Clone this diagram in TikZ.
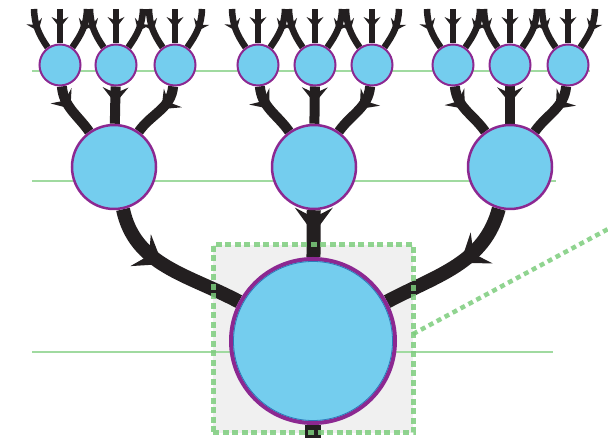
\documentclass[tikz,border=0pt]{standalone}
\usetikzlibrary{arrows.meta,decorations.markings,positioning,calc}

\definecolor{cellblue}{RGB}{116,205,238}
\definecolor{cellrim}{RGB}{140,40,145}
\definecolor{cellline}{RGB}{46,120,185}
\definecolor{edgeblack}{RGB}{35,31,32}
\definecolor{guide}{RGB}{160,218,160}
\definecolor{dotgreen}{RGB}{125,205,125}
\definecolor{boxgray}{RGB}{240,240,240}

\pgfdeclarelayer{back}
\pgfdeclarelayer{edges}
\pgfsetlayers{back,edges,main}

\begin{document}
\begin{tikzpicture}[x=1pt,y=1pt,
	cell/.style={circle,fill=cellblue,draw=cellrim,inner sep=0pt},
	bud/.style={cell,minimum size=41pt,line width=2pt},
	knot/.style={cell,minimum size=84pt,line width=2.5pt},
	hub/.style={cell,minimum size=164pt,line width=4pt},
	limb/.style={color=edgeblack,line cap=butt},
	leaf/.style={limb,line width=6.5pt,postaction={decorate},
		decoration={markings,mark=at position #1 with {\arrow{Stealth[length=11pt,width=17pt,inset=4pt,line width=0pt]}}}},
	leaf/.default=0.55,
	twig/.style={limb,line width=10pt,postaction={decorate},
		decoration={markings,mark=at position #1 with {\arrow{Stealth[length=16pt,width=26pt,inset=6pt,line width=0pt]}}}},
	twig/.default=0.45,
	branch/.style={limb,line width=14pt,postaction={decorate},
		decoration={markings,mark=at position #1 with {\arrow{Stealth[length=26pt,width=38pt,inset=10pt,line width=0pt]}}}},
	branch/.default=0.5,
	trunk/.style={limb,line width=16pt},
	zoombox/.style={draw=dotgreen,draw opacity=0.85,line width=5pt,dash pattern=on 6pt off 3.5pt,
		inner sep=0pt,outer sep=0pt,minimum width=200pt,minimum height=188pt},
	zoomlink/.style={draw=dotgreen,draw opacity=0.85,line width=4.5pt,dash pattern=on 5pt off 4pt},
	level/.style={draw=guide,line width=2pt}]
\useasboundingbox (0,0) rectangle (608,438);

% cells, root first
\node[hub] (root) at (313,97) {};
\draw[cellline,line width=0.8pt] (root.center) circle[radius=79.5];
\foreach \i/\x in {1/114,2/314,3/510}
	\node[knot] (m\i) at (\x,271) {};
\foreach \i/\x in {1/60,2/116,3/175,4/258,5/315,6/372,7/453,8/510,9/568}
	\node[bud] (s\i) at (\x,373) {};

% loose ends
\foreach \i in {1,...,9} {
	\coordinate (s\i-l) at ($(s\i)+(-26,56)$);
	\coordinate (s\i-c) at ($(s\i)+(0,56)$);
	\coordinate (s\i-r) at ($(s\i)+(27,56)$);
}
\coordinate (base) at (313,0);

% zoom frame around the root
\node[zoombox] (lens) at (313,99) {};
\coordinate (far) at (610,210);
\draw[zoomlink] ($(lens.east)+(0,5)$) -- (far);

\begin{pgfonlayer}{back}
	\fill[boxgray] (lens.south west) rectangle (lens.north east);
	\draw[level] (32,367) -- (590,367);
	\draw[level] (32,257) -- (556,257);
	\draw[level] (32,86) -- (553,86);
\end{pgfonlayer}

\begin{pgfonlayer}{edges}
	\foreach \i in {1,...,9} {
		\draw[leaf] (s\i-l) to[out=-88,in=125] (s\i);
		\draw[leaf] (s\i-c) -- (s\i);
		\draw[leaf] (s\i-r) to[out=-92,in=55] (s\i);
	}
	\foreach \g/\a/\b/\c in {1/1/2/3,2/4/5/6,3/7/8/9} {
		\draw[twig] (s\a) to[out=-85,in=125] (m\g);
		\draw[twig] (s\b) -- (m\g);
		\draw[twig] (s\c) to[out=-95,in=55] (m\g);
	}
	\draw[branch=0.45] (m1) to[out=-78,in=152] (root);
	\draw[branch] (m2) -- (root);
	\draw[branch=0.45] (m3) to[out=-105,in=28] (root);
	\draw[trunk] (root) -- (base);
\end{pgfonlayer}
\end{tikzpicture}
\end{document}
